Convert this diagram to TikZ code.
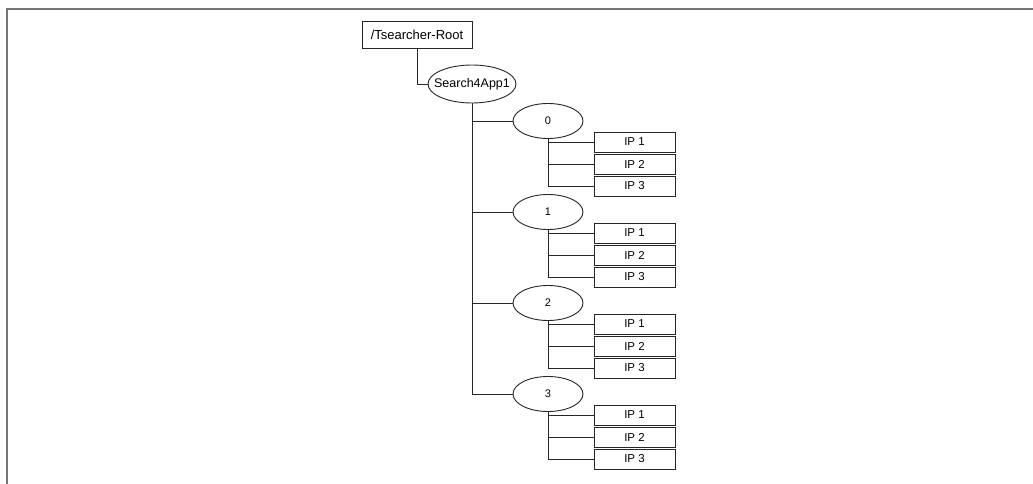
\documentclass[tikz,border=0pt]{standalone}
\usepackage{fontspec}
\setmainfont{Liberation Sans}
\usetikzlibrary{shapes.geometric}
\begin{document}
\begin{tikzpicture}[x=1pt,y=-1pt,
  conn/.style={draw=black!85, line width=0.8pt},
  frame/.style={draw=black!55, line width=1.2pt},
  rootbox/.style={draw=black!85, line width=0.9pt, minimum width=110pt, minimum height=27pt, inner sep=0pt, font=\fontsize{13}{15}\selectfont},
  oval/.style={ellipse, draw=black!85, line width=0.9pt, inner sep=0pt, font=\fontsize{11}{13}\selectfont},
  ipbox/.style={draw=black!85, line width=0.9pt, minimum width=81pt, minimum height=20pt, inner sep=0pt, font=\fontsize{11.5}{13}\selectfont}]
\useasboundingbox (0,0) rectangle (1033,484);
\draw[frame] (1033,9) -- (7,9) -- (7,484);

\node[rootbox] (root) at (417,34.5) {/Tsearcher-Root};
\node[oval, inner xsep=-7pt, minimum width=88pt, minimum height=38pt, font=\fontsize{12.5}{14}\selectfont] (app) at (472,84) {Search4App1};
\draw[conn] (root.south) |- (app.west);

\foreach \k in {0,1,2,3} {
  \pgfmathsetmacro{\yy}{121+91*\k}
  \node[oval, minimum width=70pt, minimum height=35pt] (e\k) at (548,\yy) {\k};
  \node[ipbox] (ip\k a) at (634.5,\yy+21) {IP 1};
  \node[ipbox] (ip\k b) at (634.5,\yy+43) {IP 2};
  \node[ipbox] (ip\k c) at (634.5,\yy+65) {IP 3};
  \draw[conn] (app.south |- e\k.west) -- (e\k.west);
  \draw[conn] (e\k.south) |- (ip\k c.west);
  \draw[conn] (e\k.south |- ip\k a.west) -- (ip\k a.west);
  \draw[conn] (e\k.south |- ip\k b.west) -- (ip\k b.west);
}
\draw[conn] (app.south) -- (app.south |- e3.west);
\end{tikzpicture}
\end{document}
